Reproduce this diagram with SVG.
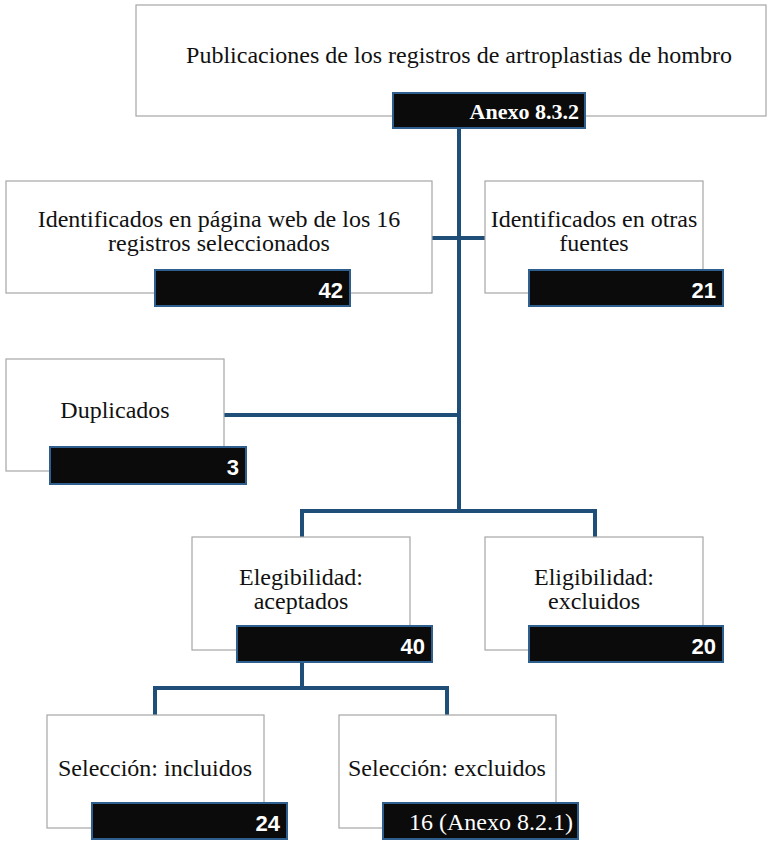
<svg xmlns="http://www.w3.org/2000/svg" width="770" height="841" viewBox="0 0 770 841">
<style>
.box{fill:#fff;stroke:#a6a6a6;stroke-width:1.2}
.bar{fill:#0b0b0b;stroke:#2f5f8f;stroke-width:2}
.t{font-family:"Liberation Serif","Times New Roman",serif;font-size:24px;fill:#111;text-anchor:middle}
.n{font-family:"Liberation Sans",Arial,sans-serif;font-weight:bold;font-size:22px;fill:#fff;text-anchor:end}
.ns{font-family:"Liberation Serif","Times New Roman",serif;font-size:24px;fill:#fff;text-anchor:end}
.c{fill:none;stroke:#1f4e79;stroke-width:4}
</style>
<rect width="770" height="841" fill="#fff"/>
<g id="connectors">
<path class="c" d="M459 128V511"/>
<path class="c" d="M432 238H485"/>
<path class="c" d="M224 415H459"/>
<path class="c" d="M302 537V511H595V537"/>
<path class="c" d="M302 662V688"/>
<path class="c" d="M155 715V688H447V715"/>
</g>
<g id="n-top">
<rect class="box" x="136" y="5" width="630" height="111"/>
<text class="t" x="459" y="63">Publicaciones de los registros de artroplastias de hombro</text>
<rect class="bar" x="393" y="93" width="192" height="35"/>
<text class="ns" x="579" y="119" style="font-weight:bold;font-size:22px">Anexo 8.3.2</text>
</g>
<g id="n-web">
<rect class="box" x="6" y="181" width="426" height="112"/>
<text class="t" x="219" y="227">Identificados en página web de los 16</text>
<text class="t" x="219" y="251">registros seleccionados</text>
<rect class="bar" x="155" y="270" width="195" height="36"/>
<text class="n" x="343" y="298">42</text>
</g>
<g id="n-otras">
<rect class="box" x="485" y="181" width="218" height="112"/>
<text class="t" x="594" y="227">Identificados en otras</text>
<text class="t" x="594" y="251">fuentes</text>
<rect class="bar" x="529" y="270" width="194" height="36"/>
<text class="n" x="716" y="298">21</text>
</g>
<g id="n-dup">
<rect class="box" x="6" y="359" width="218" height="112"/>
<text class="t" x="115" y="418">Duplicados</text>
<rect class="bar" x="50" y="447" width="196" height="37"/>
<text class="n" x="239" y="475">3</text>
</g>
<g id="n-eacep">
<rect class="box" x="192" y="537" width="218" height="113"/>
<text class="t" x="301" y="585">Elegibilidad:</text>
<text class="t" x="301" y="609">aceptados</text>
<rect class="bar" x="237" y="626" width="195" height="36"/>
<text class="n" x="425" y="654">40</text>
</g>
<g id="n-eexcl">
<rect class="box" x="485" y="537" width="218" height="113"/>
<text class="t" x="594" y="585">Eligibilidad:</text>
<text class="t" x="594" y="609">excluidos</text>
<rect class="bar" x="529" y="626" width="194" height="36"/>
<text class="n" x="716" y="654">20</text>
</g>
<g id="n-sincl">
<rect class="box" x="47" y="715" width="217" height="113"/>
<text class="t" x="155" y="776">Selección: incluidos</text>
<rect class="bar" x="92" y="803" width="195" height="36"/>
<text class="n" x="280" y="831">24</text>
</g>
<g id="n-sexcl">
<rect class="box" x="339" y="715" width="217" height="113"/>
<text class="t" x="447" y="776">Selección: excluidos</text>
<rect class="bar" x="383" y="803" width="195" height="36"/>
<text class="ns" x="573" y="830">16 (Anexo 8.2.1)</text>
</g>
</svg>
